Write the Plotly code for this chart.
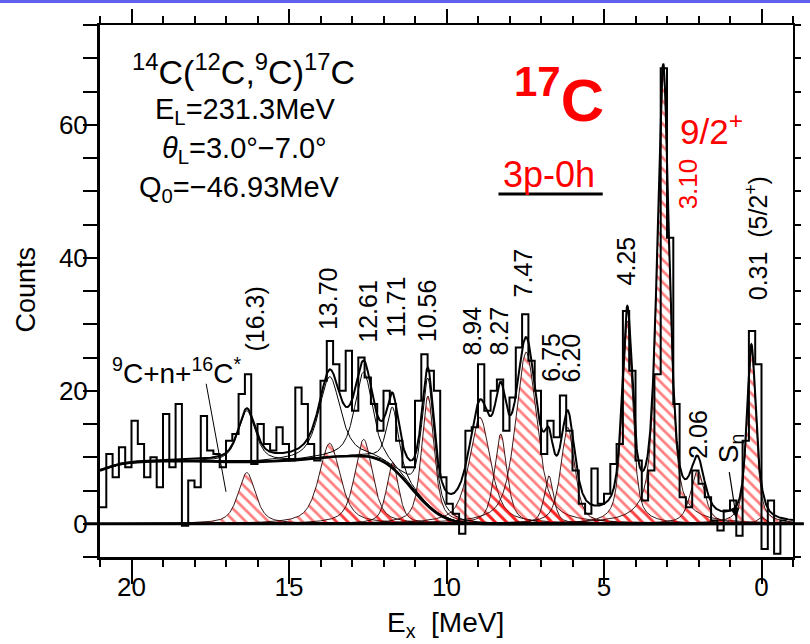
import numpy as np
import plotly.graph_objects as go

# ---------------- data ----------------
# histogram: 0.2 MeV bins, centres from 20.9 MeV down to -0.7 MeV
bin_centers = np.round(np.arange(20.9, -0.71, -0.2), 2)
counts = [
    2.5, 10.5, 7, 11.5, 8.5, 15.5, 12, 7, 10, 5.5,          # 20.9 .. 19.1
    16.5, 8.5, 18, -0.3, 6.5, 5.5, 16.2, 11, 10.5, 8.5,     # 18.9 .. 17.1
    12.5, 13.5, 19.5, 22.5, 9, 15, 12, 11, 14.5, 12,        # 16.9 .. 15.1
    9.5, 20.5, 18, 12, 9.5, 21.5, 27.5, 24, 20, 26,         # 14.9 .. 13.1
    17, 25, 22, 18, 14, 20, 18, 12.5, 8.5, 8.5,             # 12.9 .. 11.1
    18.5, 25.5, 23, 20, 7, 3, 1.5, -1.5, 14, 14.5,          # 10.9 .. 9.1
    24, 17, 20, 21.7, 14, 19, 26.5, 31.5, 24.5, 20,         # 8.9 .. 7.1
    10.5, 15.5, 13, 19.3, 14, 8, 3, 1.5, 8.3, 3,            # 6.9 .. 5.1
    4.5, 9, 12, 32, 23, 9.5, 3.5, 8, 22.5, 68.5,            # 4.9 .. 3.1
    43, 18, 4, 2.5, 8, 6, 4, 0.5, -1, 2,                    # 2.9 .. 1.1
    3.5, -1.8, 12.5, 29, 24, -3.8, 3.5, -4.5, 0.5           # 0.9 .. -0.7
]

# fitted peaks (centre [MeV], height [counts], FWHM [MeV])
peak_E = [16.34, 13.71, 12.63, 11.71, 10.59, 8.94, 8.28, 7.47, 6.75, 6.15, 4.26, 3.12, 2.03, 0.32, 0.0]
peak_h = [7.7, 12.1, 12.7, 9.2, 19.2, 16.0, 13.5, 25.8, 7.2, 14.5, 30.5, 68.0, 8.0, 26.3, 1.0]
peak_w = [0.65, 0.80, 0.66, 0.45, 0.47, 0.80, 0.47, 0.80, 0.35, 0.52, 0.39, 0.45, 0.52, 0.34, 0.30]
thin_peaks = [0, 1, 2, 3, 4]   # drawn as peak + background as well

# three-body background 9C+n+16C*
bkg_E = [21.0, 20.5, 20.0, 19.5, 19.0, 18.0, 17.0, 16.0, 15.0, 14.0, 13.5, 13.0, 12.5,
         12.25, 12.0, 11.75, 11.5, 11.25, 11.0, 10.75, 10.5, 10.25, 10.0, 9.75, 9.5, 9.0, -1.0]
bkg_c = [8.0, 8.8, 9.2, 9.35, 9.4, 9.4, 9.3, 9.3, 9.5, 9.9, 10.1, 10.2, 10.1,
         9.8, 9.3, 8.5, 7.4, 6.1, 4.7, 3.4, 2.3, 1.4, 0.8, 0.4, 0.15, 0.0, 0.0]

# state labels: (text, E, counts)
state_labels = [
    ("(16.3)", 16.09, 30.8), ("13.70", 13.76, 33.8), ("12.61", 12.50, 32.0),
    ("11.71", 11.59, 32.6), ("10.56", 10.61, 32.0), ("8.94", 9.20, 29.0),
    ("8.27", 8.35, 29.0), ("7.47", 7.56, 37.7), ("6.75", 6.71, 25.0),
    ("6.20", 6.05, 25.0), ("4.25", 4.29, 39.5), ("2.06", 2.02, 13.5),
    ("0.31  (5/2<sup>+</sup>)", 0.16, 43.0),
]

FONT = "Liberation Sans, Arial, sans-serif"

# ---------------- model curves ----------------
E = np.linspace(21.0, -1.0, 2201)


def pvoigt(x, x0, h, w, eta=0.62):
    d = (x - x0) / w
    return h * (eta / (1 + 4 * d * d) + (1 - eta) * np.exp(-4 * np.log(2) * d * d))


bE = np.array(bkg_E[::-1])
bC = np.array(bkg_c[::-1])
bkg = np.interp(E, bE, bC)
comps = [pvoigt(E, e0, h, w) for e0, h, w in zip(peak_E, peak_h, peak_w)]
total = bkg + np.sum(comps, axis=0)

fig = go.Figure()

for c in comps:
    fig.add_trace(go.Scatter(
        x=E, y=c, mode="lines", fill="tozeroy",
        fillcolor="rgba(255,255,255,0)",
        fillpattern=dict(shape="\\", fgcolor="#ff0000", bgcolor="rgba(255,255,255,0)",
                         size=8, solidity=0.35),
        line=dict(color="rgba(40,0,0,0.9)", width=1), hoverinfo="skip", showlegend=False))

for i in thin_peaks:
    fig.add_trace(go.Scatter(x=E, y=bkg + comps[i], mode="lines",
                             line=dict(color="black", width=1), showlegend=False))

fig.add_trace(go.Scatter(x=bkg_E, y=bkg_c, mode="lines", line_shape="spline",
                         line=dict(color="black", width=2.5), showlegend=False))
fig.add_trace(go.Scatter(x=E, y=total, mode="lines",
                         line=dict(color="black", width=2), showlegend=False))

# histogram as step line
hx = [c + 0.1 for c in bin_centers] + [bin_centers[-1] - 0.1]
hy = list(counts) + [counts[-1]]
fig.add_trace(go.Scatter(x=hx, y=hy, mode="lines", line_shape="hv",
                         line=dict(color="black", width=2), showlegend=False))

# dummy trace for top / right frame axes
fig.add_trace(go.Scatter(x=[21], y=[-5], xaxis="x2", yaxis="y2", mode="markers",
                         marker=dict(opacity=0), showlegend=False, hoverinfo="skip"))

ann = []
for t, xe, yc in state_labels:
    ann.append(dict(x=xe, y=yc, text=t, textangle=-90, showarrow=False,
                    xanchor="center", yanchor="middle",
                    font=dict(family=FONT, size=25, color="black")))

big = dict(family=FONT, color="black")
ann += [
    dict(x=16.44, y=68.3, text="<sup>14</sup>C(<sup>12</sup>C,<sup>9</sup>C)<sup>17</sup>C",
         showarrow=False, font=dict(big, size=34)),
    dict(x=16.40, y=62.0, text="E<sub>L</sub>=231.3MeV", showarrow=False, font=dict(big, size=29)),
    dict(x=16.40, y=56.2, text="<i>θ</i><sub>L</sub>=3.0°−7.0°", showarrow=False, font=dict(big, size=29)),
    dict(x=16.56, y=50.3, text="Q<sub>0</sub>=−46.93MeV", showarrow=False, font=dict(big, size=29)),
    dict(x=6.42, y=64.3, text="<b><sup>17</sup>C</b>", showarrow=False,
         font=dict(family=FONT, size=60, color="#ff0000")),
    dict(x=1.60, y=59.4, text="9/2<sup>+</sup>", showarrow=False,
         font=dict(family=FONT, size=35, color="#ff0000")),
    dict(x=6.74, y=52.5, text="3p-0h", showarrow=False,
         font=dict(family=FONT, size=36, color="#ff0000")),
    dict(x=2.32, y=51.1, text="3.10", textangle=-90, showarrow=False,
         xanchor="center", yanchor="middle",
         font=dict(family=FONT, size=26, color="#ff0000")),
    dict(x=18.58, y=23.0, text="<sup>9</sup>C+n+<sup>16</sup>C<sup>*</sup>", showarrow=False,
         font=dict(big, size=28)),
    dict(x=0.98, y=11.3, text="S<sub>n</sub>", textangle=-90, showarrow=False,
         xanchor="center", yanchor="middle", font=dict(big, size=28)),
    dict(x=0.80, y=0.9, ax=1.03, ay=8.0, axref="x", ayref="y", text="", showarrow=True,
         arrowhead=2, arrowsize=1.6, arrowwidth=1.2, arrowcolor="black"),
    dict(x=-75 / 699, y=0.502, xref="paper", yref="paper", text="Counts", textangle=-90,
         xanchor="center", yanchor="middle", showarrow=False, font=dict(big, size=27)),
    dict(x=0.498, y=-0.126, xref="paper", yref="paper", text="E<sub>x</sub>  [MeV]",
         xanchor="center", yanchor="middle", showarrow=False, font=dict(big, size=28)),
]

shapes = [
    dict(type="line", xref="paper", yref="y", x0=-14 / 699, x1=1 + 11 / 699, y0=0, y1=0,
         line=dict(color="black", width=3)),
    dict(type="line", xref="x", yref="y", x0=8.35, x1=5.04, y0=49.6, y1=49.6,
         line=dict(color="black", width=3)),
    dict(type="line", xref="x", yref="y", x0=17.63, y0=21.05, x1=17.0, y1=4.8,
         line=dict(color="black", width=1)),
    dict(type="rect", xref="paper", yref="paper", x0=-0.2, x1=1.2, y0=1 + 22 / 532, y1=1 + 25.5 / 532,
         fillcolor="#6060ee", line=dict(width=0)),
]

fig.update_layout(
    width=810, height=644,
    margin=dict(l=100, r=11, t=25, b=87),
    paper_bgcolor="white", plot_bgcolor="white",
    font=dict(family=FONT, color="black"),
    showlegend=False,
    annotations=ann, shapes=shapes,
    xaxis=dict(range=[21, -1], showgrid=False, zeroline=False, showline=True,
               linecolor="black", linewidth=3, ticks="outside", ticklen=24, tickwidth=2,
               tickcolor="black", tick0=0, dtick=5, tickfont=dict(size=26),
               ticklabelstandoff=-19,
               minor=dict(ticks="outside", ticklen=7, tickwidth=2, dtick=1, tickcolor="black")),
    yaxis=dict(range=[-5, 75], showgrid=False, zeroline=False, showline=True,
               linecolor="black", linewidth=3, ticks="outside", ticklen=14, tickwidth=2,
               tickcolor="black", tick0=0, dtick=20, tickfont=dict(size=26),
               ticklabelstandoff=-10,
               minor=dict(ticks="outside", ticklen=14, tickwidth=2, dtick=5, tickcolor="black")),
    xaxis2=dict(range=[21, -1], overlaying="x", side="top", anchor="y2", showgrid=False,
                zeroline=False, showline=True, linecolor="black", linewidth=2,
                ticks="outside", ticklen=14, tickwidth=2, tickcolor="black", tick0=0, dtick=5,
                showticklabels=False,
                minor=dict(ticks="outside", ticklen=7, tickwidth=2, dtick=1, tickcolor="black")),
    yaxis2=dict(range=[-5, 75], overlaying="y", side="right", anchor="x2", showgrid=False,
                zeroline=False, showline=True, linecolor="black", linewidth=2,
                ticks="outside", ticklen=6, tickwidth=2, tickcolor="black", tick0=0, dtick=5,
                showticklabels=False),
)

fig.write_html("out.html")
